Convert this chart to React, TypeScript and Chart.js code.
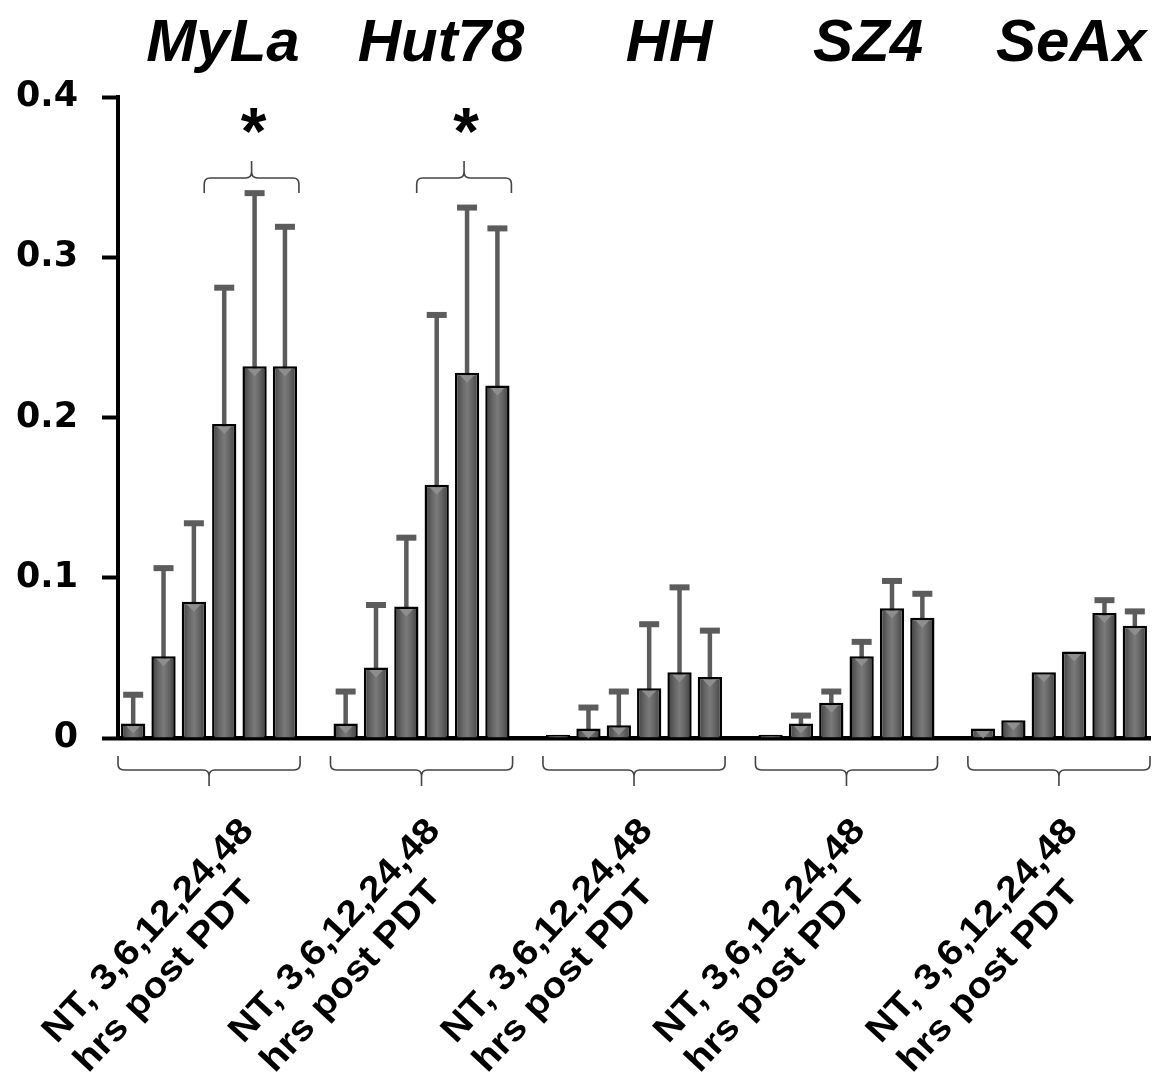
import React, { useEffect, useRef } from 'react';
import { Chart, registerables } from 'chart.js';

Chart.register(...registerables);

// ---------------- data ----------------
const groups = ['MyLa', 'Hut78', 'HH', 'SZ4', 'SeAx'];
const timepoints = ['NT', '3', '6', '12', '24', '48'];

const mylaMean = [0.009, 0.051, 0.085, 0.196, 0.232, 0.232];
const mylaSD = [0.018, 0.055, 0.049, 0.085, 0.108, 0.087];
const hut78Mean = [0.009, 0.044, 0.082, 0.158, 0.228, 0.22];
const hut78SD = [0.02, 0.039, 0.043, 0.106, 0.103, 0.098];
const hhMean = [0.002, 0.006, 0.008, 0.031, 0.041, 0.038];
const hhSD = [0, 0.013, 0.021, 0.04, 0.053, 0.029];
const sz4Mean = [0.002, 0.009, 0.022, 0.051, 0.081, 0.075];
const sz4SD = [0, 0.005, 0.007, 0.009, 0.017, 0.015];
const seaxMean = [0.006, 0.011, 0.041, 0.054, 0.078, 0.07];
const seaxSD = [0, 0, 0, 0, 0.008, 0.009];

const groupMeans = [mylaMean, hut78Mean, hhMean, sz4Mean, seaxMean];
const groupSDs = [mylaSD, hut78SD, hhSD, sz4SD, seaxSD];

const yTickLabels = ['0', '0.1', '0.2', '0.3', '0.4'];
const xLabelLines = ['NT, 3,6,12,24,48', 'hrs post PDT'];
const significantGroups = ['MyLa', 'Hut78'];
const significantFromTimepoint = '12';
const significanceMark = '*';

// ---------------- layout constants (not data) ----------------
const W = 1167;
const H = 1076;
const titleX = [223, 441, 669, 868, 1071];
const labelDx = [26, 0, 0, 0, 0];

// flatten: 6 bars per group + one empty spacer slot between groups
const labels: string[] = [];
const values: (number | null)[] = [];
const sds: (number | null)[] = [];
const groupIndex: number[][] = [];
groups.forEach((g, gi) => {
  const idx: number[] = [];
  timepoints.forEach((t, ti) => {
    idx.push(labels.length);
    labels.push(g + ' ' + t);
    values.push(groupMeans[gi][ti]);
    sds.push(groupSDs[gi][ti]);
  });
  groupIndex.push(idx);
  if (gi < groups.length - 1) {
    labels.push('');
    values.push(null);
    sds.push(null);
  }
});

function brace(ctx: CanvasRenderingContext2D, L: number, R: number, yEnd: number, yMid: number, yStem: number) {
  const C = (L + R) / 2;
  const r = 6;
  const s = Math.sign(yStem - yMid);
  ctx.beginPath();
  ctx.moveTo(L, yEnd);
  ctx.lineTo(L, yMid - s * r);
  ctx.quadraticCurveTo(L, yMid, L + r, yMid);
  ctx.lineTo(C - r, yMid);
  ctx.quadraticCurveTo(C, yMid, C, yMid + s * r);
  ctx.lineTo(C, yStem);
  ctx.moveTo(C, yMid + s * r);
  ctx.quadraticCurveTo(C, yMid, C + r, yMid);
  ctx.lineTo(R - r, yMid);
  ctx.quadraticCurveTo(R, yMid, R, yMid - s * r);
  ctx.lineTo(R, yEnd);
  ctx.stroke();
}

const decorPlugin = {
  id: 'decor',
  beforeDatasetsDraw(chart: any) {
    const ctx: CanvasRenderingContext2D = chart.ctx;
    const meta = chart.getDatasetMeta(0);
    const y = chart.scales.y;
    ctx.save();
    ctx.strokeStyle = '#5c5c5c';
    ctx.fillStyle = '#5c5c5c';
    values.forEach((v, i) => {
      const sd = sds[i];
      if (v == null || !sd) return;
      const el = meta.data[i];
      const yTop = y.getPixelForValue(v + sd);
      const yBar = y.getPixelForValue(v);
      ctx.lineWidth = 4.5;
      ctx.beginPath();
      ctx.moveTo(el.x, yBar + 4);
      ctx.lineTo(el.x, yTop);
      ctx.stroke();
      ctx.fillRect(el.x - 10, yTop - 3, 20, 6);
    });
    ctx.restore();
  },
  afterDatasetsDraw(chart: any) {
    const ctx: CanvasRenderingContext2D = chart.ctx;
    const meta = chart.getDatasetMeta(0);
    const xs = chart.scales.x;
    ctx.save();
    // bevel triangles at bar tops
    values.forEach((v, i) => {
      if (v == null) return;
      const el = meta.data[i];
      const h = el.base - el.y;
      if (h < 9) return;
      ctx.fillStyle = '#8e8e8e';
      ctx.beginPath();
      ctx.moveTo(el.x - 7, el.y + 2.5);
      ctx.lineTo(el.x + 7, el.y + 2.5);
      ctx.lineTo(el.x, el.y + 10);
      ctx.closePath();
      ctx.fill();
    });

    const slot = xs.getPixelForValue(1) - xs.getPixelForValue(0);

    // group titles
    ctx.fillStyle = '#000';
    ctx.font = 'italic bold 60px "Liberation Sans", Arial, sans-serif';
    ctx.textAlign = 'center';
    ctx.textBaseline = 'alphabetic';
    groups.forEach((g, gi) => {
      ctx.fillText(g, titleX[gi], 61);
    });

    // bottom braces + rotated labels
    ctx.strokeStyle = '#444';
    ctx.lineWidth = 1.6;
    groupIndex.forEach((idx, gi) => {
      const x0 = xs.getPixelForValue(idx[0]);
      const x1 = xs.getPixelForValue(idx[idx.length - 1]);
      const L = x0 - slot / 2;
      const R = x1 + slot / 2;
      brace(ctx, L, R, 756, 770, 786);
      const C = (L + R) / 2;
      ctx.save();
      ctx.translate(C + 20 + labelDx[gi], 832);
      ctx.rotate((-47 * Math.PI) / 180);
      ctx.scale(1.1, 1);
      ctx.fillStyle = '#000';
      ctx.font = 'bold 36px "Liberation Sans", Arial, sans-serif';
      ctx.textBaseline = 'alphabetic';
      ctx.textAlign = 'right';
      ctx.fillText(xLabelLines[0], 0, 0);
      const w1 = ctx.measureText(xLabelLines[0]).width;
      ctx.textAlign = 'left';
      ctx.fillText(xLabelLines[1], -w1, 43);
      ctx.restore();
    });

    // significance brackets
    const tFrom = timepoints.indexOf(significantFromTimepoint);
    significantGroups.forEach((g) => {
      const gi = groups.indexOf(g);
      const idx = groupIndex[gi];
      const x0 = xs.getPixelForValue(idx[tFrom]);
      const x1 = xs.getPixelForValue(idx[idx.length - 1]);
      const L = x0 - 20;
      const R = x1 + 14;
      ctx.strokeStyle = '#444';
      ctx.lineWidth = 1.6;
      brace(ctx, L, R, 193, 178, 161);
      ctx.fillStyle = '#000';
      ctx.font = 'bold 66px "Liberation Sans", Arial, sans-serif';
      ctx.textAlign = 'center';
      ctx.textBaseline = 'alphabetic';
      ctx.fillText(significanceMark, (L + R) / 2 + 2, 154);
    });
    ctx.restore();
  },
};

export default function App() {
  const canvasRef = useRef<HTMLCanvasElement | null>(null);

  useEffect(() => {
    const canvas = canvasRef.current;
    if (!canvas) return;
    const chart = new Chart(canvas, {
      type: 'bar',
      data: {
        labels,
        datasets: [
          {
            data: values as any,
            backgroundColor: (c: any) => {
              const chartObj = c.chart;
              const xs = chartObj.scales && chartObj.scales.x;
              if (!xs || c.dataIndex == null) return '#5e5e5e';
              const cx = xs.getPixelForValue(c.dataIndex);
              if (!isFinite(cx)) return '#5e5e5e';
              const g = chartObj.ctx.createLinearGradient(cx - 12, 0, cx + 12, 0);
              g.addColorStop(0, '#3e3e3e');
              g.addColorStop(0.3, '#666666');
              g.addColorStop(0.5, '#7a7a7a');
              g.addColorStop(0.7, '#666666');
              g.addColorStop(1, '#3e3e3e');
              return g;
            },
            borderColor: '#000',
            borderWidth: 2.5,
            barPercentage: 0.8,
            categoryPercentage: 1.0,
          },
        ],
      },
      options: {
        responsive: false,
        animation: false,
        layout: { padding: { left: 0, top: 97, right: 17, bottom: 338 } },
        plugins: {
          legend: { display: false },
          tooltip: { enabled: false },
          title: { display: false },
        },
        scales: {
          x: {
            type: 'category',
            offset: true,
            grid: { display: false },
            ticks: { display: false },
            border: { display: true, color: '#000', width: 4.5 },
            afterFit: (s: any) => {
              s.height = 0;
            },
          },
          y: {
            min: 0,
            max: 0.4,
            ticks: {
              stepSize: 0.1,
              color: '#000',
              padding: 24,
              font: { family: '"DejaVu Sans", sans-serif', weight: 'bold', size: 35 },
              callback: (_v: any, i: number) => yTickLabels[i],
            },
            grid: {
              display: true,
              drawOnChartArea: false,
              drawTicks: true,
              tickLength: 16,
              tickWidth: 4,
              tickColor: '#000',
            },
            border: { display: true, color: '#000', width: 4 },
            afterFit: (s: any) => {
              s.width = 118;
            },
          },
        },
      } as any,
      plugins: [decorPlugin],
    });
    return () => chart.destroy();
  }, []);

  return (
    <div style={{ position: 'absolute', left: 0, top: 0, width: W, height: H, background: '#fff' }}>
      <canvas ref={canvasRef} width={W} height={H} style={{ display: 'block', width: W, height: H }} />
    </div>
  );
}
